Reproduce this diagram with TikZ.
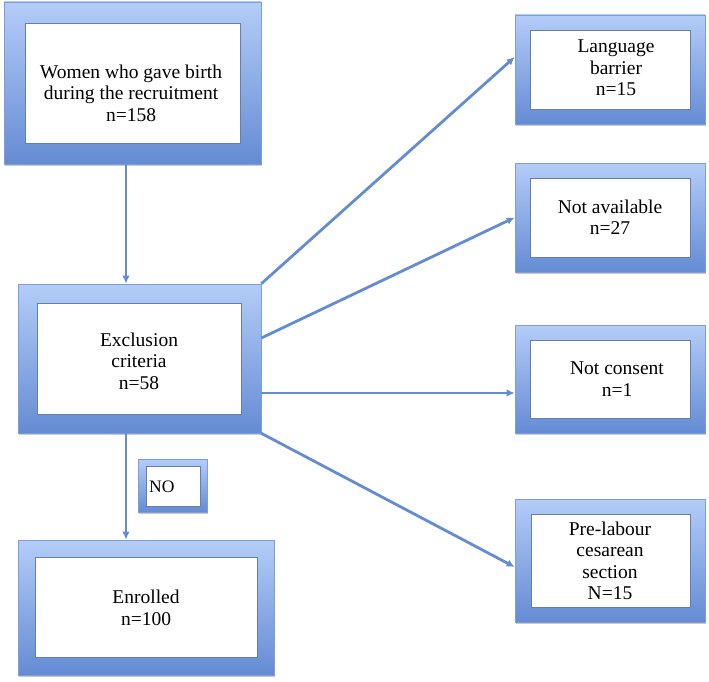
\documentclass[tikz,border=0pt]{standalone}
\usepackage{fontspec}
\setmainfont{Liberation Serif}
\usetikzlibrary{arrows.meta,shadows}
\definecolor{topc}{RGB}{180,205,248}
\definecolor{botc}{RGB}{100,139,211}
\definecolor{linec}{RGB}{100,140,210}
\definecolor{edgec}{RGB}{125,158,218}
\begin{document}
\begin{tikzpicture}[x=1pt,y=-1pt,
 outer/.style={draw=edgec, line width=0.6pt, top color=topc, bottom color=botc, inner sep=0pt,
   drop shadow={shadow xshift=1pt,shadow yshift=-2pt,opacity=0.35,fill=black!60}},
 inner/.style={draw=edgec!80!black, line width=0.4pt, fill=white, inner sep=0pt},
 lbl/.style={align=center, font=\fontsize{19.5}{21.5}\selectfont, inner sep=0pt},
 arr/.style={draw=linec, line width=2.8pt, -{Latex[length=8pt,width=7.5pt]}}]
\useasboundingbox (0,0) rectangle (709,682);
% left column
\node[outer, minimum width=257pt, minimum height=162pt] (w) at (132.5,83) {};
\node[inner, minimum width=215pt, minimum height=120pt] (wi) at (132.5,83) {};
\node[lbl] (wt) at (131,93) {Women who gave birth\\during the recruitment\\n=158};

\node[outer, minimum width=243pt, minimum height=149pt] (e) at (139.5,358.5) {};
\node[inner, minimum width=204pt, minimum height=111pt] (ei) at (139,358.5) {};
\node[lbl] (et) at (139,361) {Exclusion\\criteria\\n=58};

\node[outer, minimum width=256pt, minimum height=135pt] (n) at (146,607.5) {};
\node[inner, minimum width=222pt, minimum height=100pt] (ni) at (146,607) {};
\node[lbl] (nt) at (146,608) {Enrolled\\n=100};

\node[outer, minimum width=69pt, minimum height=53pt] (o) at (172.5,485.5) {};
\node[inner, minimum width=54pt, minimum height=40pt] (oi) at (173,486) {};
\node[lbl, anchor=west, font=\fontsize{17.5}{20}\selectfont] (ot) at (149,487) {NO};

% right column
\node[outer, minimum width=190pt, minimum height=109pt] (l) at (610,69.5) {};
\node[inner, minimum width=160pt, minimum height=79pt] (li) at (610,69.5) {};
\node[lbl] (lt) at (616,68) {Language\\barrier\\n=15};

\node[outer, minimum width=190pt, minimum height=109pt] (a) at (610,217.5) {};
\node[inner, minimum width=160pt, minimum height=79pt] (ai) at (610,217.5) {};
\node[lbl] (at) at (610,217) {Not available\\n=27};

\node[outer, minimum width=190pt, minimum height=108pt] (c) at (610,379) {};
\node[inner, minimum width=160pt, minimum height=78pt] (ci) at (610,379) {};
\node[lbl] (ct) at (617,379) {Not consent\\n=1};

\node[outer, minimum width=190pt, minimum height=123pt] (p) at (610,560.5) {};
\node[inner, minimum width=159pt, minimum height=93pt] (pi) at (610.5,560.5) {};
\node[lbl] (pt) at (610,561) {Pre-labour\\cesarean\\section\\N=15};

% connectors
\draw[arr] (126,0 |- w.south) -- (126,0 |- e.north);
\draw[arr] (e.north east) -- ([yshift=12.5pt]l.west);
\draw[arr] ([yshift=20.5pt]e.east) -- (a.west);
\draw[arr] (e.east |- 0,393) -- (c.west |- 0,393);
\draw[arr] (e.south east) -- ([yshift=-6.5pt]p.west);
\draw[arr] (126,0 |- e.south) -- (126,0 |- n.north);
\end{tikzpicture}
\end{document}
